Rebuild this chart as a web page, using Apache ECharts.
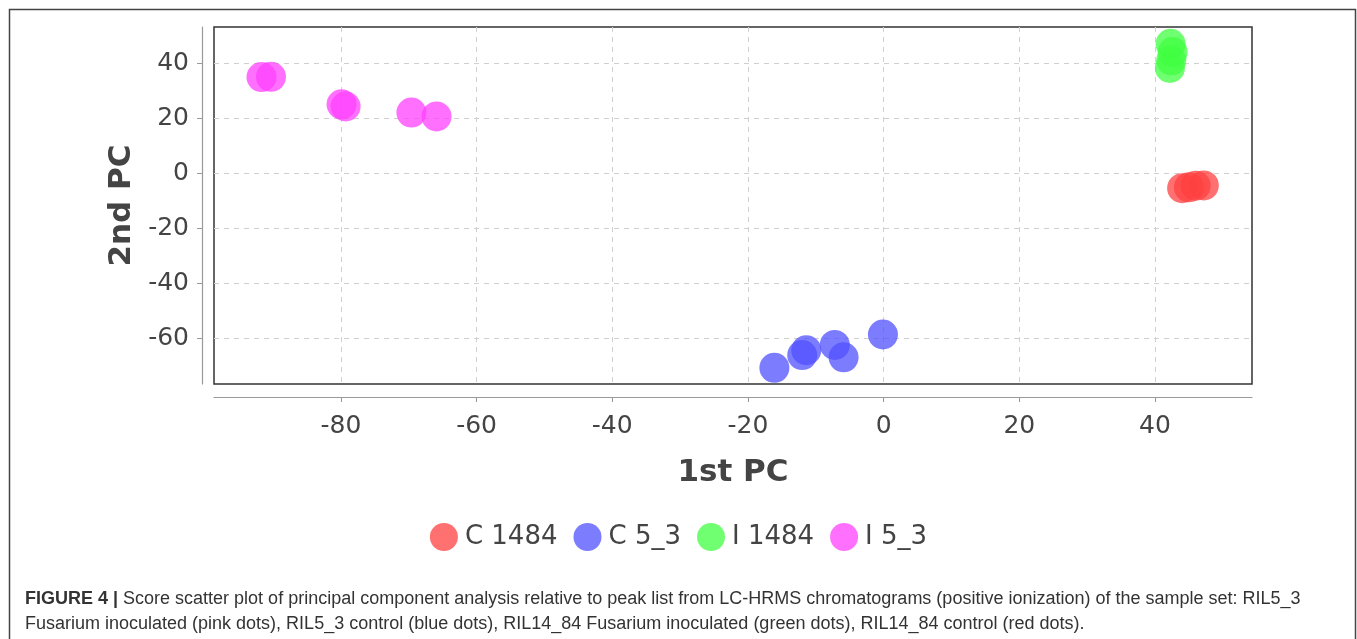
<!DOCTYPE html>
<html><head><meta charset="utf-8">
<script src="https://cdn.jsdelivr.net/npm/echarts@6/dist/echarts.min.js"></script>
<style>html,body{margin:0;padding:0;background:#fff}#c{width:1357px;height:639px}</style>
</head><body><div id="c"></div>
<script>
const seriesNames = ['C 1484', 'C 5_3', 'I 1484', 'I 5_3'];
const c1484 = [[44.0, -5.5], [45.0, -5.2], [46.0, -4.6], [47.2, -4.5]];
const c53 = [[-16.1, -70.8], [-12.0, -66.2], [-11.4, -64.4], [-7.2, -62.5], [-5.9, -67.0], [-0.1, -58.7]];
const i1484 = [[42.2, 38.2], [42.4, 41.0], [42.6, 44.0], [42.3, 47.0]];
const i53 = [[-91.7, 34.9], [-90.3, 35.0], [-79.9, 25.0], [-79.3, 24.2], [-69.6, 22.0], [-65.9, 20.6]];
const xTicks = [-80, -60, -40, -20, 0, 20, 40];
const yTicks = [-60, -40, -20, 0, 20, 40];
const colors = ['rgb(255,64,64)', 'rgb(80,80,255)', 'rgb(64,255,64)', 'rgb(255,64,255)'];
const caption1 = 'Score scatter plot of principal component analysis relative to peak list from LC-HRMS chromatograms (positive ionization) of the sample set: RIL5_3';
const caption2 = 'Fusarium inoculated (pink dots), RIL5_3 control (blue dots), RIL14_84 Fusarium inoculated (green dots), RIL14_84 control (red dots).';

const font = 'DejaVu Sans';
const allData = [c1484, c53, i1484, i53];
const chart = echarts.init(document.getElementById('c'), null, {renderer: 'canvas'});
chart.setOption({
  animation: false,
  color: colors,
  grid: {left: 214, right: 105, top: 27, bottom: 255, show: true, borderColor: '#333', borderWidth: 1.5, backgroundColor: 'transparent'},
  xAxis: {
    type: 'value', min: -98.7, max: 54.3, offset: 13,
    name: '1st PC', nameLocation: 'middle', nameGap: 60,
    nameTextStyle: {fontFamily: font, fontWeight: 'bold', fontSize: 31, color: '#444'},
    axisLine: {show: true, onZero: false, lineStyle: {color: '#999', width: 1.2}},
    axisTick: {show: true, length: 5, lineStyle: {color: '#999'}, customValues: xTicks},
    axisLabel: {customValues: xTicks, fontFamily: font, fontSize: 25, color: '#444', margin: 17},
    splitLine: {show: true, lineStyle: {color: '#d0d0d0', type: [5, 5], width: 1}}
  },
  yAxis: {
    type: 'value', min: -76.7, max: 53.1, offset: 12,
    name: '2nd PC', nameLocation: 'middle', nameGap: 65,
    nameTextStyle: {fontFamily: font, fontWeight: 'bold', fontSize: 31, color: '#444'},
    axisLine: {show: true, onZero: false, lineStyle: {color: '#999', width: 1.2}},
    axisTick: {show: true, length: 5, lineStyle: {color: '#999'}, customValues: yTicks},
    axisLabel: {customValues: yTicks, fontFamily: font, fontSize: 25, color: '#444', margin: 13},
    splitLine: {show: true, lineStyle: {color: '#d0d0d0', type: [5, 5], width: 1}}
  },
  legend: {
    top: 518, left: 'center', icon: 'circle', itemWidth: 28, itemHeight: 28, itemGap: 16,
    textStyle: {fontFamily: font, fontSize: 26, color: '#444', padding: [0, 0, 0, 2]},
    data: seriesNames
  },
  graphic: [
    {type: 'rect', left: 7, top: 7, shape: {width: 1346, height: 660}, style: {fill: 'none', stroke: '#444', lineWidth: 1.5}, silent: true},
    {type: 'text', left: 25, top: 587, style: {
      text: '{b|FIGURE 4 |} ' + caption1 + '\n' + caption2,
      fontFamily: 'Liberation Sans', fontSize: 18, fill: '#333', lineHeight: 25,
      rich: {b: {fontFamily: 'Liberation Sans', fontWeight: 'bold', fontSize: 18, fill: '#333', lineHeight: 25}}
    }}
  ],
  series: seriesNames.map((n, i) => ({
    name: n, type: 'scatter', data: allData[i], symbolSize: 30,
    itemStyle: {color: colors[i], opacity: 0.75}
  }))
});
</script></body></html>
